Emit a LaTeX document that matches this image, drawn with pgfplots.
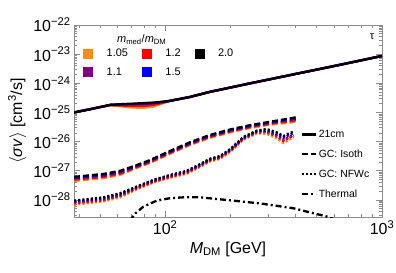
\documentclass[border=0pt]{standalone}
\usepackage{fontspec}
\setmainfont{Liberation Sans}
\usepackage{pgfplots}
\usepackage{pgfplotstable}
\pgfplotsset{compat=1.18}
\definecolor{corange}{RGB}{255,140,20}
\definecolor{cpurple}{RGB}{128,0,128}
\definecolor{cred}{RGB}{255,0,0}
\definecolor{cblue}{RGB}{0,0,255}
\definecolor{framegray}{RGB}{140,140,140}

\pgfplotstableread{
x o p r b k
38 1.0e-25 1.0e-25 1.0e-25 1.0e-25 1.0e-25
45 1.29e-25 1.29e-25 1.29e-25 1.29e-25 1.29e-25
55.8 1.78e-25 1.82e-25 1.80e-25 1.82e-25 1.82e-25
62 1.65e-25 1.82e-25 1.75e-25 1.88e-25 1.92e-25
70 1.48e-25 1.80e-25 1.68e-25 1.92e-25 2.0e-25
80 1.45e-25 1.85e-25 1.68e-25 1.98e-25 2.1e-25
88.3 1.6e-25 1.95e-25 1.82e-25 2.08e-25 2.19e-25
97 2.05e-25 2.22e-25 2.15e-25 2.28e-25 2.34e-25
105 2.48e-25 2.5e-25 2.5e-25 2.5e-25 2.5e-25
130 3.4e-25 3.4e-25 3.4e-25 3.4e-25 3.4e-25
161 5.1e-25 5.1e-25 5.1e-25 5.1e-25 5.1e-25
250 1.02e-24 1.02e-24 1.02e-24 1.02e-24 1.02e-24
400 2.1e-24 2.1e-24 2.1e-24 2.1e-24 2.1e-24
600 3.9e-24 3.9e-24 3.9e-24 3.9e-24 3.9e-24
1000 8.7e-24 8.7e-24 8.7e-24 8.7e-24 8.7e-24
}\tcm

\pgfplotstableread{
x o p r b k
38 4.5e-28 5.2e-28 5.0e-28 5.6e-28 6.2e-28
52 5.6e-28 6.6e-28 6.2e-28 7.0e-28 7.8e-28
62 7.2e-28 8.4e-28 8.0e-28 9.0e-28 1.0e-27
74.1 1.26e-27 1.39e-27 1.36e-27 1.47e-27 1.58e-27
85.3 1.87e-27 2.06e-27 2.01e-27 2.18e-27 2.34e-27
105.4 3.84e-27 4.22e-27 4.13e-27 4.46e-27 4.8e-27
130 7.6e-27 8.4e-27 8.2e-27 8.8e-27 9.5e-27
161 1.36e-26 1.5e-26 1.46e-26 1.58e-26 1.7e-26
200 2.1e-26 2.31e-26 2.26e-26 2.45e-26 2.63e-26
247 2.96e-26 3.26e-26 3.18e-26 3.44e-26 3.7e-26
305 3.84e-26 4.22e-26 4.13e-26 4.46e-26 4.8e-26
377 4.5e-26 5.3e-26 5.0e-26 5.7e-26 6.3e-26
400 4.9e-26 5.7e-26 5.4e-26 6.1e-26 6.8e-26
}\iso

\pgfplotstableread{
x o p r b k
38 6.8e-29 8.0e-29 7.6e-29 8.6e-29 9.5e-29
52 8.9e-29 1.03e-28 9.8e-29 1.11e-28 1.23e-28
62 1.22e-28 1.43e-28 1.36e-28 1.53e-28 1.7e-28
74.1 2.32e-28 2.55e-28 2.49e-28 2.7e-28 2.9e-28
88.3 3.92e-28 4.31e-28 4.21e-28 4.56e-28 4.9e-28
105.4 5.76e-28 6.34e-28 6.19e-28 6.7e-28 7.2e-28
126 8.0e-28 8.8e-28 8.6e-28 9.3e-28 1.0e-27
145 1.36e-27 1.5e-27 1.46e-27 1.58e-27 1.7e-27
161 2.08e-27 2.29e-27 2.24e-27 2.42e-27 2.6e-27
179 2.56e-27 2.82e-27 2.75e-27 2.98e-27 3.2e-27
200 4.48e-27 4.93e-27 4.82e-27 5.2e-27 5.6e-27
229.5 1.16e-26 1.28e-26 1.25e-26 1.35e-26 1.45e-26
265 1.92e-26 2.11e-26 2.06e-26 2.23e-26 2.4e-26
294 1.85e-26 2.2e-26 2.1e-26 2.4e-26 2.7e-26
327 1.3e-26 1.6e-26 1.5e-26 1.8e-26 2.1e-26
351 9.0e-27 1.15e-26 1.05e-26 1.35e-26 1.55e-26
377 1.2e-26 1.5e-26 1.4e-26 1.75e-26 2.0e-26
392 1.45e-26 1.7e-26 1.6e-26 1.9e-26 2.2e-26
}\nfw

\pgfplotstableread{
x y
69 1.9e-29
72 3.2e-29
79.4 5.9e-29
91.6 9.5e-29
105.4 1.15e-28
121.4 1.23e-28
145 1.23e-28
192 1.0e-28
274 7.6e-29
390 5.2e-29
556 2.7e-29
600 2.2e-29
}\therm

\begin{document}
\begin{tikzpicture}
\pgfplotsset{
  lw/.style={line width=2.3bp},
  isos/.style={lw, dash pattern=on 6bp off 3bp},
  nfws/.style={lw, dash pattern=on 2.2bp off 2bp},
  thms/.style={lw, dash pattern=on 6bp off 3bp on 2bp off 3bp},
}
\begin{axis}[
  name=main,
  scale only axis, width=308bp, height=192bp,
  xmode=log, ymode=log,
  xmin=38, xmax=1000, ymin=2.6e-29, ymax=1e-22,
  axis line style={framegray, line width=0.8bp},
  every tick/.style={framegray, line width=0.6bp},
  tick align=inside,
  major tick length=6bp, minor tick length=3bp,
  xtick={100,1000},
  xticklabels={10\textsuperscript{2},10\textsuperscript{3}},
  minor xtick={40,50,60,70,80,90,200,300,400,500,600,700,800,900},
  ytick={1e-28,1e-27,1e-26,1e-25,1e-24,1e-23,1e-22},
  yticklabels={10\textsuperscript{−28},10\textsuperscript{−27},10\textsuperscript{−26},10\textsuperscript{−25},10\textsuperscript{−24},10\textsuperscript{−23},10\textsuperscript{−22}},
  minor ytick={3e-29,4e-29,5e-29,6e-29,7e-29,8e-29,9e-29,
    2e-28,3e-28,4e-28,5e-28,6e-28,7e-28,8e-28,9e-28,
    2e-27,3e-27,4e-27,5e-27,6e-27,7e-27,8e-27,9e-27,
    2e-26,3e-26,4e-26,5e-26,6e-26,7e-26,8e-26,9e-26,
    2e-25,3e-25,4e-25,5e-25,6e-25,7e-25,8e-25,9e-25,
    2e-24,3e-24,4e-24,5e-24,6e-24,7e-24,8e-24,9e-24,
    2e-23,3e-23,4e-23,5e-23,6e-23,7e-23,8e-23,9e-23},
  tick label style={font=\fontsize{16}{18}\selectfont},
  xlabel={\textit{M}\textsubscript{DM} [GeV]},
  ylabel={$\langle$\textit{σv}$\rangle$ [cm\textsuperscript{3}/s]},
  label style={font=\fontsize{16}{18}\selectfont},
  legend image code/.code={\draw[#1] (0bp,0bp) -- (14bp,0bp);},
  legend style={draw=none, fill=none, at={(0.725,0.475)}, anchor=north west,
    font=\fontsize{10.5}{12}\selectfont, row sep=7bp, legend cell align=left},
]
\addplot[corange, lw, forget plot] table[x=x, y=o] {\tcm};
\addplot[cpurple, lw, forget plot] table[x=x, y=p] {\tcm};
\addplot[cred, lw, forget plot] table[x=x, y=r] {\tcm};
\addplot[cblue, lw, forget plot] table[x=x, y=b] {\tcm};
\addplot[black, lw, forget plot] table[x=x, y=k] {\tcm};
\addplot[corange, isos, forget plot] table[x=x, y=o] {\iso};
\addplot[cpurple, isos, forget plot] table[x=x, y=p] {\iso};
\addplot[cred, isos, forget plot] table[x=x, y=r] {\iso};
\addplot[cblue, isos, forget plot] table[x=x, y=b] {\iso};
\addplot[black, isos, forget plot] table[x=x, y=k] {\iso};
\addplot[corange, nfws, forget plot] table[x=x, y=o] {\nfw};
\addplot[cpurple, nfws, forget plot] table[x=x, y=p] {\nfw};
\addplot[cred, nfws, forget plot] table[x=x, y=r] {\nfw};
\addplot[cblue, nfws, forget plot] table[x=x, y=b] {\nfw};
\addplot[black, nfws, forget plot] table[x=x, y=k] {\nfw};
\addplot[black, thms, forget plot] table[x=x, y=y] {\therm};
\addlegendimage{black, lw}
\addlegendentry{21cm}
\addlegendimage{black, isos}
\addlegendentry{GC: Isoth}
\addlegendimage{black, nfws}
\addlegendentry{GC: NFWc}
\addlegendimage{black, thms}
\addlegendentry{Thermal}
\node[font=\fontsize{11}{13}\selectfont] at (rel axis cs:0.22,0.925) {\textit{m}\textsubscript{med}/\textit{m}\textsubscript{DM}};
\node[font=\fontsize{11}{13}\selectfont] at (rel axis cs:0.968,0.94) {τ};
\end{axis}
\begin{axis}[
  scale only axis, width=308bp, height=192bp, hide axis,
  xmin=0, xmax=1, ymin=0, ymax=1,
  legend columns=3,
  legend image code/.code={\fill[#1] (0bp,-4.5bp) rectangle (9bp,4.5bp);},
  legend style={draw=none, fill=none, at={(0.02,0.895)}, anchor=north west,
    font=\fontsize{11}{13}\selectfont, row sep=5bp, column sep=12bp, legend cell align=left},
]
\addlegendimage{corange}\addlegendentry{1.05}
\addlegendimage{cred}\addlegendentry{1.2}
\addlegendimage{black}\addlegendentry{2.0}
\addlegendimage{cpurple}\addlegendentry{1.1}
\addlegendimage{cblue}\addlegendentry{1.5}
\end{axis}
\pgfresetboundingbox
\useasboundingbox ([shift={(-74bp,-56bp)}]main.south west) rectangle ([shift={(14bp,25bp)}]main.north east);
\end{tikzpicture}
\end{document}
